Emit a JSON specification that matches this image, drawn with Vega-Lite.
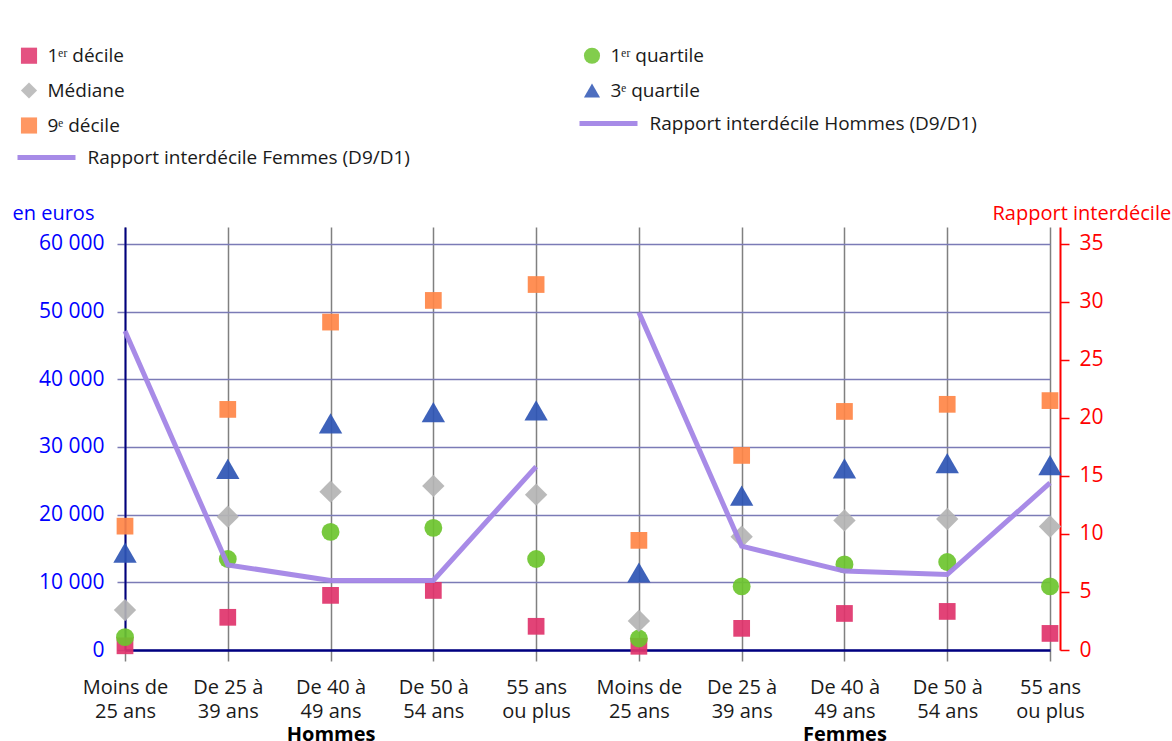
{
  "$schema": "https://vega.github.io/schema/vega-lite/v6.json",
  "width": 925,
  "height": 423,
  "padding": {"left": 12, "top": 46, "right": 0, "bottom": 0},
  "background": "white",
  "config": {"view": {"stroke": null}, "font": "Open Sans"},
  "layer": [
    {
      "data": {"values": [
        {"cat": "Hommes|Moins de|25 ans", "serie": "1ᵉʳ décile", "value": 620},
        {"cat": "Hommes|Moins de|25 ans", "serie": "1ᵉʳ quartile", "value": 1900},
        {"cat": "Hommes|Moins de|25 ans", "serie": "Médiane", "value": 5900},
        {"cat": "Hommes|Moins de|25 ans", "serie": "3ᵉ quartile", "value": 14400},
        {"cat": "Hommes|Moins de|25 ans", "serie": "9ᵉ décile", "value": 18300},
        {"cat": "Hommes|De 25 à|39 ans", "serie": "1ᵉʳ décile", "value": 4830},
        {"cat": "Hommes|De 25 à|39 ans", "serie": "1ᵉʳ quartile", "value": 13450},
        {"cat": "Hommes|De 25 à|39 ans", "serie": "Médiane", "value": 19700},
        {"cat": "Hommes|De 25 à|39 ans", "serie": "3ᵉ quartile", "value": 26750},
        {"cat": "Hommes|De 25 à|39 ans", "serie": "9ᵉ décile", "value": 35550},
        {"cat": "Hommes|De 40 à|49 ans", "serie": "1ᵉʳ décile", "value": 8070},
        {"cat": "Hommes|De 40 à|49 ans", "serie": "1ᵉʳ quartile", "value": 17450},
        {"cat": "Hommes|De 40 à|49 ans", "serie": "Médiane", "value": 23400},
        {"cat": "Hommes|De 40 à|49 ans", "serie": "3ᵉ quartile", "value": 33500},
        {"cat": "Hommes|De 40 à|49 ans", "serie": "9ᵉ décile", "value": 48450},
        {"cat": "Hommes|De 50 à|54 ans", "serie": "1ᵉʳ décile", "value": 8800},
        {"cat": "Hommes|De 50 à|54 ans", "serie": "1ᵉʳ quartile", "value": 18050},
        {"cat": "Hommes|De 50 à|54 ans", "serie": "Médiane", "value": 24250},
        {"cat": "Hommes|De 50 à|54 ans", "serie": "3ᵉ quartile", "value": 35150},
        {"cat": "Hommes|De 50 à|54 ans", "serie": "9ᵉ décile", "value": 51650},
        {"cat": "Hommes|55 ans|ou plus", "serie": "1ᵉʳ décile", "value": 3500},
        {"cat": "Hommes|55 ans|ou plus", "serie": "1ᵉʳ quartile", "value": 13450},
        {"cat": "Hommes|55 ans|ou plus", "serie": "Médiane", "value": 22950},
        {"cat": "Hommes|55 ans|ou plus", "serie": "3ᵉ quartile", "value": 35400},
        {"cat": "Hommes|55 ans|ou plus", "serie": "9ᵉ décile", "value": 54000},
        {"cat": "Femmes|Moins de|25 ans", "serie": "1ᵉʳ décile", "value": 550},
        {"cat": "Femmes|Moins de|25 ans", "serie": "1ᵉʳ quartile", "value": 1700},
        {"cat": "Femmes|Moins de|25 ans", "serie": "Médiane", "value": 4300},
        {"cat": "Femmes|Moins de|25 ans", "serie": "3ᵉ quartile", "value": 11450},
        {"cat": "Femmes|Moins de|25 ans", "serie": "9ᵉ décile", "value": 16200},
        {"cat": "Femmes|De 25 à|39 ans", "serie": "1ᵉʳ décile", "value": 3200},
        {"cat": "Femmes|De 25 à|39 ans", "serie": "1ᵉʳ quartile", "value": 9400},
        {"cat": "Femmes|De 25 à|39 ans", "serie": "Médiane", "value": 16750},
        {"cat": "Femmes|De 25 à|39 ans", "serie": "3ᵉ quartile", "value": 22800},
        {"cat": "Femmes|De 25 à|39 ans", "serie": "9ᵉ décile", "value": 28750},
        {"cat": "Femmes|De 40 à|49 ans", "serie": "1ᵉʳ décile", "value": 5400},
        {"cat": "Femmes|De 40 à|49 ans", "serie": "1ᵉʳ quartile", "value": 12650},
        {"cat": "Femmes|De 40 à|49 ans", "serie": "Médiane", "value": 19150},
        {"cat": "Femmes|De 40 à|49 ans", "serie": "3ᵉ quartile", "value": 26850},
        {"cat": "Femmes|De 40 à|49 ans", "serie": "9ᵉ décile", "value": 35250},
        {"cat": "Femmes|De 50 à|54 ans", "serie": "1ᵉʳ décile", "value": 5700},
        {"cat": "Femmes|De 50 à|54 ans", "serie": "1ᵉʳ quartile", "value": 13000},
        {"cat": "Femmes|De 50 à|54 ans", "serie": "Médiane", "value": 19350},
        {"cat": "Femmes|De 50 à|54 ans", "serie": "3ᵉ quartile", "value": 27600},
        {"cat": "Femmes|De 50 à|54 ans", "serie": "9ᵉ décile", "value": 36300},
        {"cat": "Femmes|55 ans|ou plus", "serie": "1ᵉʳ décile", "value": 2450},
        {"cat": "Femmes|55 ans|ou plus", "serie": "1ᵉʳ quartile", "value": 9400},
        {"cat": "Femmes|55 ans|ou plus", "serie": "Médiane", "value": 18250},
        {"cat": "Femmes|55 ans|ou plus", "serie": "3ᵉ quartile", "value": 27300},
        {"cat": "Femmes|55 ans|ou plus", "serie": "9ᵉ décile", "value": 36850}
      ]},
      "mark": {"type": "point", "filled": true, "opacity": 0.92, "strokeWidth": 0},
      "encoding": {
        "x": {
          "field": "cat", "type": "nominal",
          "scale": {"type": "point", "padding": 0, "domain": [
            "Hommes|Moins de|25 ans", "Hommes|De 25 à|39 ans", "Hommes|De 40 à|49 ans", "Hommes|De 50 à|54 ans", "Hommes|55 ans|ou plus",
            "Femmes|Moins de|25 ans", "Femmes|De 25 à|39 ans", "Femmes|De 40 à|49 ans", "Femmes|De 50 à|54 ans", "Femmes|55 ans|ou plus"]},
          "axis": {
            "orient": "bottom", "title": null, "labelAngle": 0, "labelOverlap": false,
            "labelExpr": "slice(split(datum.value, '|'), 1)",
            "labelFontSize": 20, "labelLineHeight": 24, "labelColor": "#1a1a1a", "labelPadding": 16,
            "tickSize": 11, "tickColor": "#808080", "tickWidth": 1.5,
            "domainColor": "#000080", "domainWidth": 2.5,
            "grid": true, "gridColor": "#808080", "gridWidth": 1.5
          }
        },
        "y": {
          "field": "value", "type": "quantitative",
          "scale": {"domain": [0, 62500], "nice": false, "zero": true},
          "axis": {
            "orient": "left",
            "values": [0, 10000, 20000, 30000, 40000, 50000, 60000],
            "labelExpr": "replace(format(datum.value, ',d'), ',', ' ')",
            "labelFontSize": 21, "labelColor": "#0000ff", "labelPadding": 13,
            "tickSize": 8, "tickColor": "#7b7bb6", "tickWidth": 1.5,
            "domainColor": "#000080", "domainWidth": 2,
            "grid": true, "gridColor": "#7b7bb6", "gridWidth": 1.5,
            "title": "en euros", "titleAngle": 0, "titleAlign": "left", "titleBaseline": "middle",
            "titleX": -113, "titleY": -14, "titleColor": "#0000ff", "titleFontWeight": "normal", "titleFontSize": 20
          }
        },
        "color": {
          "field": "serie", "type": "nominal",
          "scale": {
            "domain": ["1ᵉʳ décile", "1ᵉʳ quartile", "Médiane", "3ᵉ quartile", "9ᵉ décile"],
            "range": ["#e0336b", "#6cc42e", "#b4b4b4", "#2e55b4", "#ff8547"]
          },
          "legend": {
            "orient": "none", "legendX": -105.5, "legendY": -181,
            "direction": "horizontal",
            "title": null, "columns": 2, "columnPadding": 455, "rowPadding": 12,
            "labelFont": "Open Sans", "labelFontSize": 19, "labelColor": "#1a1a1a", "labelLimit": 0,
            "labelOffset": 9, "symbolSize": 260, "symbolOpacity": 1
          }
        },
        "shape": {
          "field": "serie", "type": "nominal",
          "scale": {
            "domain": ["1ᵉʳ décile", "1ᵉʳ quartile", "Médiane", "3ᵉ quartile", "9ᵉ décile"],
            "range": ["square", "circle", "diamond", "triangle-up", "square"]
          }
        },
        "size": {
          "condition": [
            {"test": "datum.serie === 'Médiane'", "value": 500},
            {"test": "datum.serie === '3ᵉ quartile'", "value": 545},
            {"test": "datum.serie === '1ᵉʳ quartile'", "value": 320}
          ],
          "value": 280
        }
      }
    },
    {
      "encoding": {
        "x": {
          "field": "cat", "type": "nominal",
          "axis": {
            "orient": "bottom", "title": null, "labelAngle": 0, "labelOverlap": false,
            "labelExpr": "indexof(datum.value, 'De 40') >= 0 ? split(datum.value, '|')[0] : ''",
            "labelFontSize": 20, "labelFontWeight": "bold", "labelColor": "#000000", "labelPadding": 74,
            "ticks": false, "domain": false, "grid": false
          }
        },
        "y": {
          "field": "ratio", "type": "quantitative",
          "scale": {"domain": [0, 36.4583], "nice": false, "zero": true},
          "axis": {
            "orient": "right", "offset": 10,
            "values": [0, 5, 10, 15, 20, 25, 30, 35],
            "labelFontSize": 21, "labelColor": "#ff0000", "labelPadding": 10,
            "tickSize": 9, "tickColor": "#ff0000", "tickWidth": 1.5,
            "domainColor": "#ff0000", "domainWidth": 2, "grid": false,
            "title": "Rapport interdécile", "titleAngle": 0, "titleAlign": "left", "titleBaseline": "middle",
            "titleX": -68, "titleY": -14, "titleColor": "#ff0000", "titleFontWeight": "normal", "titleFontSize": 20
          }
        },
        "order": {"value": null}
      },
      "layer": [
        {
          "data": {"values": [
            {"cat": "Hommes|Moins de|25 ans", "serie": "Rapport interdécile Hommes (D9/D1)", "ratio": 27.5},
            {"cat": "Hommes|De 25 à|39 ans", "serie": "Rapport interdécile Hommes (D9/D1)", "ratio": 7.33},
            {"cat": "Hommes|De 40 à|49 ans", "serie": "Rapport interdécile Hommes (D9/D1)", "ratio": 6.0},
            {"cat": "Hommes|De 50 à|54 ans", "serie": "Rapport interdécile Hommes (D9/D1)", "ratio": 6.0},
            {"cat": "Hommes|55 ans|ou plus", "serie": "Rapport interdécile Hommes (D9/D1)", "ratio": 15.8}
          ]},
          "mark": {"type": "line", "strokeWidth": 5, "opacity": 0.95},
          "encoding": {
            "stroke": {
              "field": "serie", "type": "nominal",
              "scale": {"domain": ["Rapport interdécile Hommes (D9/D1)"], "range": ["#a385e6"]},
              "legend": {
                "orient": "none", "legendX": 452, "legendY": -135,
                "title": null, "symbolType": "stroke", "symbolSize": 3364, "symbolStrokeWidth": 5,
                "labelFont": "Open Sans", "labelFontSize": 19, "labelColor": "#1a1a1a", "labelLimit": 0,
                "labelOffset": 9.5
              }
            }
          }
        },
        {
          "data": {"values": [
            {"cat": "Femmes|Moins de|25 ans", "serie": "Rapport interdécile Femmes (D9/D1)", "ratio": 29.1},
            {"cat": "Femmes|De 25 à|39 ans", "serie": "Rapport interdécile Femmes (D9/D1)", "ratio": 8.95},
            {"cat": "Femmes|De 40 à|49 ans", "serie": "Rapport interdécile Femmes (D9/D1)", "ratio": 6.8},
            {"cat": "Femmes|De 50 à|54 ans", "serie": "Rapport interdécile Femmes (D9/D1)", "ratio": 6.5},
            {"cat": "Femmes|55 ans|ou plus", "serie": "Rapport interdécile Femmes (D9/D1)", "ratio": 14.4}
          ]},
          "mark": {"type": "line", "strokeWidth": 5, "opacity": 0.95},
          "encoding": {
            "stroke": {
              "field": "serie", "type": "nominal",
              "scale": {"domain": ["Rapport interdécile Femmes (D9/D1)"], "range": ["#a385e6"]},
              "legend": {
                "orient": "none", "legendX": -110, "legendY": -101,
                "title": null, "symbolType": "stroke", "symbolSize": 3364, "symbolStrokeWidth": 5,
                "labelFont": "Open Sans", "labelFontSize": 19, "labelColor": "#1a1a1a", "labelLimit": 0,
                "labelOffset": 9.5
              }
            }
          }
        }
      ],
      "resolve": {"scale": {"stroke": "independent"}}
    }
  ],
  "resolve": {"scale": {"y": "independent", "stroke": "independent"}, "axis": {"x": "independent"}}
}
